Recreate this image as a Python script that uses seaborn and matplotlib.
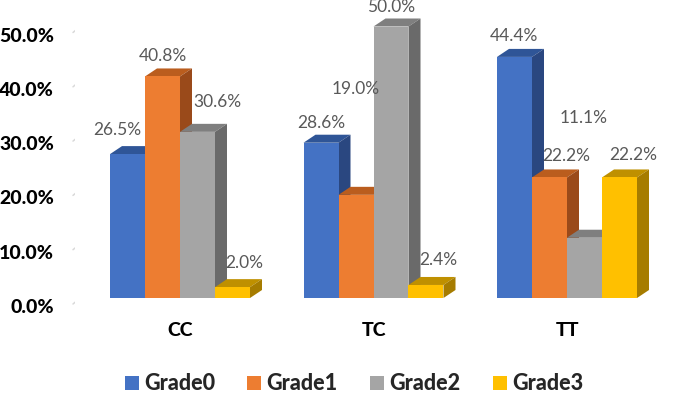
import numpy as np
import pandas as pd
import matplotlib
matplotlib.use("Agg")
import matplotlib.pyplot as plt
import seaborn as sns
from matplotlib.patches import Polygon, Patch
from matplotlib.lines import Line2D
from matplotlib.transforms import ScaledTranslation

# ---------------- data ----------------
categories = ["CC", "TC", "TT"]
grades = ["Grade0", "Grade1", "Grade2", "Grade3"]
grade0 = [26.5, 28.6, 44.4]
grade1 = [40.8, 19.0, 22.2]
grade2 = [30.6, 50.0, 11.1]
grade3 = [2.0, 2.4, 22.2]
ytick_values = [0, 10, 20, 30, 40, 50]

# ---------------- styles ----------------
front_colors = ["#4472C4", "#ED7D31", "#A5A5A5", "#FFC000"]
top_colors = ["#2F5597", "#BA5D1E", "#7F7F7F", "#BF9000"]
side_colors = ["#2A4780", "#9A4A1A", "#6A6A6A", "#A67C00"]
# data-label offsets in pixels (dx, dy-up) per grade, per category
label_offsets = [
    [(-10, 24), (0, 20), (-1, 21)],
    [(0, 20), (0, 106), (17, 21)],
    [(20, 30), (0, 20), (-1, 120)],
    [(12, 24), (12, 25), (14, 22)],
]
BOLD = 900

sns.set_style("white")
plt.rcParams["font.family"] = ["Lato", "DejaVu Sans"]

df = pd.DataFrame({
    "category": categories * 4,
    "grade": sum([[g] * 3 for g in grades], []),
    "value": grade0 + grade1 + grade2 + grade3,
})
values = [grade0, grade1, grade2, grade3]

W, H = 685, 393
fig = plt.figure(figsize=(W / 100, H / 100), dpi=100)
ax_bottom_px = 305
ax = fig.add_axes([75 / W, (H - ax_bottom_px) / H, 610 / W, ax_bottom_px / H])

px_per_cat = 193.5
px_per_pct = 5.43
base_px = 298
xlim = (-(180 - 75) / px_per_cat, 2 + (685 - 567) / px_per_cat)
ylim = (-(ax_bottom_px - base_px) / px_per_pct, base_px / px_per_pct)

sns.barplot(data=df, x="category", y="value", hue="grade", order=categories,
            hue_order=grades, palette=front_colors, saturation=1, width=0.7235,
            linewidth=0, legend=False, ax=ax)
ax.set_xlim(*xlim)
ax.set_ylim(*ylim)

for s in ax.spines.values():
    s.set_visible(False)
ax.set_xlabel("")
ax.set_ylabel("")
ax.grid(False)

# y tick labels
ax.set_yticks(ytick_values)
ax.set_yticklabels([f"{v:.1f}%" for v in ytick_values], fontsize=14,
                   fontweight=BOLD, color="black")
ax.tick_params(axis="y", length=0, pad=15)
shift = ScaledTranslation(0, -8 / 100, fig.dpi_scale_trans)
for lbl in ax.get_yticklabels():
    lbl.set_transform(lbl.get_transform() + shift)
ax.tick_params(axis="x", length=0, pad=12)
for lbl in ax.get_xticklabels():
    lbl.set_fontsize(14)
    lbl.set_fontweight(BOLD)
    lbl.set_color("black")

# 3D-style gridlines (back wall)
for v in ytick_values:
    yd = ax.transData.transform((0, v))[1] - 8 + 2
    xs = [73 / W, 101 / W, 1.0]
    ys = [yd / H, (yd + 23) / H, (yd + 23) / H]
    fig.add_artist(Line2D(xs, ys, transform=fig.transFigure, color="#D9D9D9",
                          lw=1.1, zorder=0))

# 3D faces of bars
dx = 12 / px_per_cat
dy = 8 / px_per_pct
bars = [p for p in ax.patches]
bars.sort(key=lambda p: p.get_x())
for rank, p in enumerate(bars):
    ci, gi = rank // 4, rank % 4
    x0, w, h = p.get_x(), p.get_width(), p.get_height()
    x1 = x0 + w
    p.set_zorder(3 + 2 * rank + 1)
    top = Polygon([(x0, h), (x1, h), (x1 + dx, h + dy), (x0 + dx, h + dy)],
                  closed=True, facecolor=top_colors[gi], edgecolor="none",
                  zorder=3 + 2 * rank, clip_on=False)
    side = Polygon([(x1, 0), (x1 + dx, dy), (x1 + dx, h + dy), (x1, h)],
                   closed=True, facecolor=side_colors[gi], edgecolor="none",
                   zorder=3 + 2 * rank, clip_on=False)
    ax.add_patch(top)
    ax.add_patch(side)
    v = values[gi][ci]
    ox, oy = label_offsets[gi][ci]
    ax.annotate(f"{v:.1f}%", xy=(x0 + w / 2, h), xytext=(ox, oy),
                textcoords="offset pixels", ha="center", va="center",
                fontsize=12.5, color="#595959", zorder=50, annotation_clip=False)

handles = [Patch(facecolor=c, edgecolor="none") for c in front_colors]
fig.legend(handles, grades, loc="center", bbox_to_anchor=(354 / W, 1 - 384 / H),
           ncol=4, frameon=False, prop={"weight": BOLD, "size": 15.5},
           handlelength=0.65, handleheight=0.65, handletextpad=0.25,
           columnspacing=1.5)

fig.savefig("out.png", dpi=100)
